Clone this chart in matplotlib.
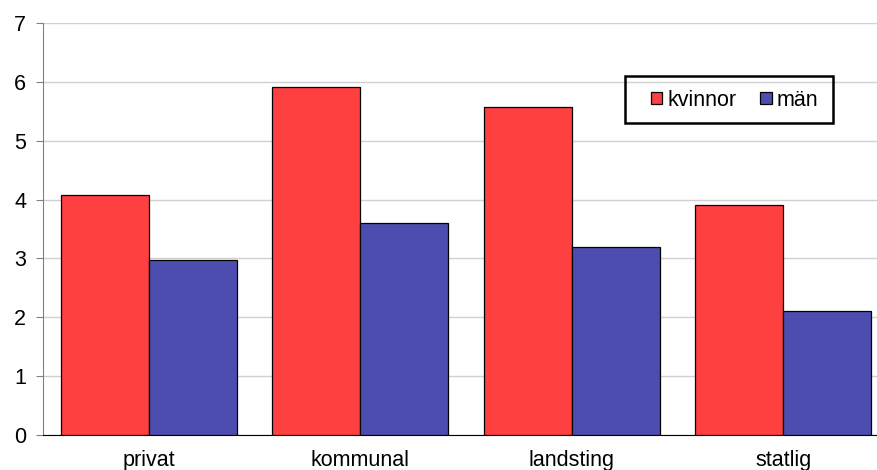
import matplotlib
matplotlib.use("Agg")
import matplotlib.pyplot as plt
from matplotlib.patches import Rectangle
import numpy as np

kategorier = ["privat", "kommunal", "landsting", "statlig"]
kvinnor = [4.08, 5.92, 5.58, 3.9]
man = [2.98, 3.6, 3.2, 2.1]

plt.rcParams['font.family'] = ['Liberation Sans', 'DejaVu Sans']
fs = 15.5

fig = plt.figure(figsize=(8.77, 4.70), dpi=100)
ax = fig.add_axes([43/877, 1-435/470, 846/877, (435-23)/470])

x = np.arange(len(kategorier))
w = 0.416
ax.bar(x - w/2, kvinnor, w, color="#FF4040", edgecolor="black", lw=0.9, label="kvinnor", zorder=3)
ax.bar(x + w/2, man, w, color="#4D4DB0", edgecolor="black", lw=0.9, label="män", zorder=3)

ax.set_xlim(-0.5, 3.5)
ax.set_ylim(0, 7)
ax.set_yticks(range(8))
ax.set_xticks(x)
ax.set_xticklabels(kategorier)
ax.tick_params(axis="x", length=0, labelsize=fs, pad=11)
ax.tick_params(axis="y", length=5, color="#808080", labelsize=fs, pad=7)
ax.yaxis.grid(True, color="#d0d0d0", lw=1, zorder=0)
for s in ["top", "right"]:
    ax.spines[s].set_visible(False)
ax.spines["left"].set_color("#808080")
ax.spines["bottom"].set_color("black")

# legend: text without frame, frame drawn as its own box
leg = ax.legend(ncol=2, loc="center left", bbox_to_anchor=(651/877, 1-100/470),
                bbox_transform=fig.transFigure, fontsize=fs, frameon=False,
                handlelength=0.52, handleheight=0.52, handletextpad=0.25, columnspacing=1.1,
                borderpad=0, borderaxespad=0)
fig.patches.append(Rectangle((625/877, 1-123/470), 208/877, 47/470, transform=fig.transFigure,
                             fill=False, edgecolor="black", lw=1.8, zorder=5))

fig.savefig("out.png", dpi=100)
